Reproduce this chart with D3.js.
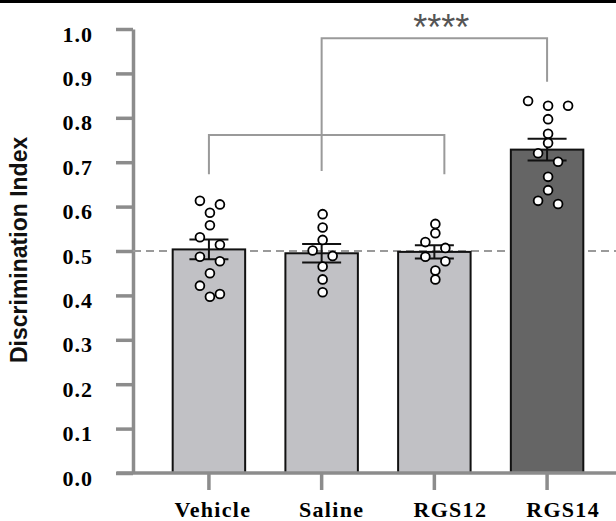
<!DOCTYPE html>
<html>
<head>
<meta charset="utf-8">
<script src="https://cdn.jsdelivr.net/npm/d3@7"></script>
<style>
body { margin: 0; background: #fff; }
svg { display: block; }
</style>
</head>
<body>
<div id="chart"></div>
<script>
// groups and individual animal values
var groups = ["Vehicle", "Saline", "RGS12", "RGS14"];
var vehicle = [0.613, 0.605, 0.586, 0.558, 0.531, 0.514, 0.487, 0.477, 0.450, 0.422, 0.403, 0.397];
var saline = [0.583, 0.553, 0.525, 0.501, 0.489, 0.465, 0.436, 0.407];
var rgs12 = [0.561, 0.540, 0.520, 0.507, 0.487, 0.477, 0.456, 0.436];
var rgs14 = [0.838, 0.827, 0.827, 0.797, 0.764, 0.743, 0.720, 0.701, 0.667, 0.637, 0.613, 0.606];
var yTicks = [0, 0.1, 0.2, 0.3, 0.4, 0.5, 0.6, 0.7, 0.8, 0.9, 1.0];
var chance = 0.5;
var sigLabel = "****";

var values = {"Vehicle": vehicle, "Saline": saline, "RGS12": rgs12, "RGS14": rgs14};

var svgWidth = 616, svgHeight = 521;
var axisColor = "#8c8c8c";
var serif = "'Liberation Serif', 'Times New Roman', serif";
var sans = "'Liberation Sans', Arial, sans-serif";

var svg = d3.select("#chart").append("svg")
	.attr("width", svgWidth)
	.attr("height", svgHeight);

// black rule along the top edge
svg.append("rect")
	.attr("x", 0).attr("y", 0)
	.attr("width", svgWidth).attr("height", 3)
	.attr("fill", "#000");

var y = d3.scaleLinear().domain([0, 1]).range([473, 29]);

var x = d3.scaleBand()
	.domain(groups)
	.range([133, 623])
	.paddingInner(0.357)
	.paddingOuter(0.352);

var cx = g => x(g) + x.bandwidth() / 2;

var stats = groups.map(g => {
	var v = values[g];
	return {
		group: g,
		mean: d3.mean(v),
		sem: d3.deviation(v) / Math.sqrt(v.length)
	};
});

// y axis
var yAxis = d3.axisLeft(y)
	.tickValues(yTicks)
	.tickSize(17)
	.tickSizeOuter(0)
	.tickPadding(23)
	.tickFormat(d3.format(".1f"));

var yG = svg.append("g")
	.attr("transform", "translate(133,0)")
	.call(yAxis);
yG.select(".domain").attr("stroke", axisColor).attr("stroke-width", 3.5);
yG.selectAll(".tick line").attr("stroke", axisColor).attr("stroke-width", 3.5);
yG.selectAll(".tick text")
	.attr("dy", "0.55em")
	.style("font-family", serif)
	.style("font-weight", "bold")
	.style("font-size", "22px")
	.style("letter-spacing", "1px")
	.attr("fill", "#000");

// y title
svg.append("text")
	.attr("transform", "translate(27,363) rotate(-90)")
	.attr("text-anchor", "start")
	.style("font-family", sans)
	.style("font-weight", "bold")
	.style("font-size", "23px")
	.attr("fill", "#111")
	.text("Discrimination Index");

// chance line
svg.append("line")
	.attr("x1", 133).attr("x2", svgWidth)
	.attr("y1", y(chance)).attr("y2", y(chance))
	.attr("stroke", "#9a9a9a")
	.attr("stroke-width", 2)
	.attr("stroke-dasharray", "8,5");

// bars
svg.append("g").selectAll("rect")
	.data(stats)
	.enter()
	.append("rect")
	.attr("x", d => x(d.group))
	.attr("y", d => y(d.mean))
	.attr("width", x.bandwidth())
	.attr("height", d => y(0) - y(d.mean))
	.attr("fill", d => d.group == "RGS14" ? "#656565" : "#c1c1c5")
	.attr("stroke", "#111")
	.attr("stroke-width", 2);

// x axis
var xAxis = d3.axisBottom(x).tickSize(17).tickSizeOuter(0).tickFormat("");
var xG = svg.append("g")
	.attr("transform", "translate(0,473)")
	.call(xAxis);
xG.select(".domain").remove();
xG.selectAll(".tick line").attr("stroke", axisColor).attr("stroke-width", 3.5);

svg.append("line")
	.attr("x1", 116.5).attr("x2", svgWidth)
	.attr("y1", 473).attr("y2", 473)
	.attr("stroke", axisColor)
	.attr("stroke-width", 3.5);

var labelNudge = [4, 10, 16, 16];
svg.append("g").selectAll("text")
	.data(groups)
	.enter()
	.append("text")
	.attr("x", (d, i) => cx(d) + labelNudge[i])
	.attr("y", 517)
	.attr("text-anchor", "middle")
	.style("font-family", serif)
	.style("font-weight", "bold")
	.style("font-size", "22px")
	.style("letter-spacing", "1.3px")
	.attr("fill", "#000")
	.text(d => d);

// error bars (mean +/- SEM)
var errG = svg.append("g").attr("stroke", "#111").attr("stroke-width", 2);
stats.forEach(d => {
	var c = cx(d.group);
	errG.append("line")
		.attr("x1", c).attr("x2", c)
		.attr("y1", y(d.mean - d.sem)).attr("y2", y(d.mean + d.sem));
	[d.mean - d.sem, d.mean + d.sem].forEach(v => {
		errG.append("line")
			.attr("x1", c - 19.5).attr("x2", c + 19.5)
			.attr("y1", y(v)).attr("y2", y(v));
	});
});

// spread points that sit on the same row sideways
function dodge(vals, c) {
	var sorted = vals.slice().sort((a, b) => b - a);
	var rows = [];
	sorted.forEach(v => {
		var row = rows[rows.length - 1];
		if (row && y(v) - y(row[0]) < 8.5) row.push(v);
		else rows.push([v]);
	});
	var pts = [];
	rows.forEach(row => row.forEach((v, i) => {
		pts.push({v: v, x: c + (i - (row.length - 1) / 2) * 20});
	}));
	return pts;
}

var points = [];
groups.forEach(g => { points = points.concat(dodge(values[g], cx(g) + 1)); });

svg.append("g").selectAll("circle")
	.data(points)
	.enter()
	.append("circle")
	.attr("cx", d => d.x)
	.attr("cy", d => y(d.v))
	.attr("r", 4.4)
	.attr("fill", "#fff")
	.attr("stroke", "#000")
	.attr("stroke-width", 1.8);

// significance brackets
var brG = svg.append("g")
	.attr("fill", "none")
	.attr("stroke", "#9a9a9a")
	.attr("stroke-width", 2);

var lowTop = 0.761, lowFoot = 0.673;
brG.append("path")
	.attr("d", d3.line()([
		[cx("Vehicle"), y(lowFoot)], [cx("Vehicle"), y(lowTop)],
		[cx("RGS12") + 10, y(lowTop)], [cx("RGS12") + 10, y(lowFoot)]
	]));

var highTop = 0.979, highFoot = 0.881;
brG.append("path")
	.attr("d", d3.line()([
		[cx("Saline"), y(0.68)], [cx("Saline"), y(highTop)],
		[cx("RGS14"), y(highTop)], [cx("RGS14"), y(highFoot)]
	]));

svg.append("text")
	.attr("x", (cx("Saline") + cx("RGS14")) / 2 + 7)
	.attr("y", 39.5)
	.attr("text-anchor", "middle")
	.style("font-family", sans)
	.style("font-size", "36px")
	.attr("fill", "#555")
	.text(sigLabel);
</script>
</body>
</html>
